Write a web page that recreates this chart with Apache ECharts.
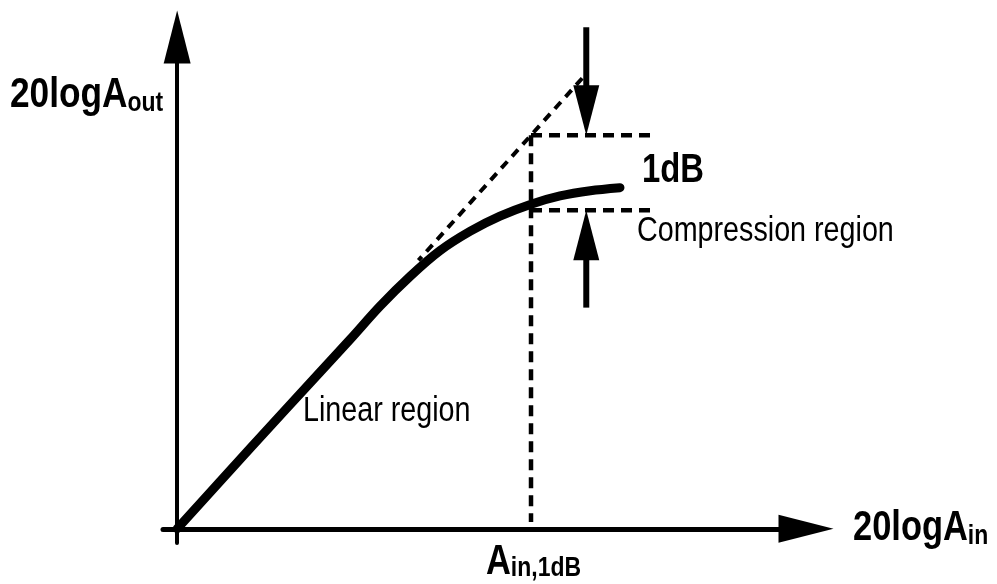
<!DOCTYPE html>
<html>
<head>
<meta charset="utf-8">
<title>1 dB compression point</title>
<script src="https://cdn.jsdelivr.net/npm/echarts@6/dist/echarts.min.js"></script>
<style>
  html, body { margin: 0; padding: 0; background: #fff; }
  #chart { width: 997px; height: 584px; }
</style>
</head>
<body>
<div id="chart"></div>
<script>
// Amplifier transfer characteristic, both axes in dB (20·log of amplitude).
// Output follows input one-to-one in the linear region, then saturates.
const inputLevel  = [0, 1.08, 2.12, 2.57, 3.01, 3.46, 3.90, 4.35, 4.79, 5.25, 5.68, 6.13, 6.57];
const outputLevel = [0, 1.07, 2.09, 2.53, 2.97, 3.37, 3.71, 3.97, 4.17, 4.33, 4.44, 4.51, 4.55];

// Extrapolated linear response (gain line, slope 1 dB/dB)
const linearStart = 3.58;
const linearEnd = 6.01;

// 1 dB compression point
const p1dbInput = 5.25;          // A_in,1dB
const compressionDb = 1;         // gap between ideal and actual output
const markerEnd = 7.09;          // right end of the horizontal markers
const arrowX = 6.07;             // where the 1 dB arrows sit
const arrowTails = [6.69, 2.95]; // tail levels of the down / up arrows

const idealAtP1 = p1dbInput;
const actualAtP1 = p1dbInput - compressionDb;

// ---- text helpers -------------------------------------------------------
const measureCtx = document.createElement('canvas').getContext('2d');
function hasFamily(family) {
  measureCtx.font = '40px monospace';
  const ref = measureCtx.measureText('20logA region').width;
  measureCtx.font = '40px "' + family + '", monospace';
  return measureCtx.measureText('20logA region').width !== ref;
}
const NARROW = hasFamily('Liberation Sans Narrow');
const FAMILY = NARROW
  ? '"Liberation Sans Narrow", "Liberation Sans", sans-serif'
  : '"Liberation Sans", Arial, sans-serif';
const SQUEEZE = NARROW ? 1 : 0.82;

function fontOf(size, bold) { return (bold ? 'bold ' : '') + size + 'px ' + FAMILY; }
function widthOf(text, size, bold) {
  measureCtx.font = fontOf(size, bold);
  return measureCtx.measureText(text).width * SQUEEZE;
}
function label(text, x, baseline, size, bold) {
  return {
    type: 'text',
    x: x,
    y: baseline - 0.3465 * size,
    scaleX: SQUEEZE,
    silent: true,
    z: 100,
    style: {
      text: text,
      font: fontOf(size, bold),
      fill: '#000',
      textAlign: 'left', align: 'left',
      textVerticalAlign: 'middle', verticalAlign: 'middle'
    }
  };
}
function withSub(main, sub, x, baseline, size, subSize, subDrop) {
  const w = widthOf(main, size, true);
  return [
    label(main, x, baseline, size, true),
    label(sub, x + w, baseline + subDrop, subSize, true)
  ];
}

// ---- chart ---------------------------------------------------------------
const chart = echarts.init(document.getElementById('chart'), null, { renderer: 'canvas' });

const dash = (pattern, width) => ({ color: '#000', width: width, type: pattern, cap: 'butt' });

const option = {
  animation: false,
  backgroundColor: '#fff',
  grid: { left: 163, right: 191, top: 37, bottom: 41, containLabel: false },
  xAxis: {
    type: 'value', min: -0.21, max: 9.33,
    axisLine: {
      onZero: true,
      symbol: ['none', 'triangle'], symbolSize: [28, 55],
      lineStyle: { color: '#000', width: 5 }
    },
    axisTick: { show: false }, axisLabel: { show: false }, splitLine: { show: false }
  },
  yAxis: {
    type: 'value', min: -0.19, max: 6.56,
    axisLine: {
      onZero: true,
      symbol: ['none', 'triangle'], symbolSize: [27, 53],
      lineStyle: { color: '#000', width: 4 }
    },
    axisTick: { show: false }, axisLabel: { show: false }, splitLine: { show: false }
  },
  series: [
    {
      name: 'extrapolated',
      type: 'line', showSymbol: false, silent: true, clip: false,
      data: [[linearEnd, linearEnd], [linearStart, linearStart]],
      lineStyle: dash([9, 7], 4), z: 2
    },
    {
      name: 'ideal output at P1dB',
      type: 'line', showSymbol: false, silent: true, clip: false,
      data: [[p1dbInput, idealAtP1], [markerEnd, idealAtP1]],
      lineStyle: dash([11, 7], 4.5), z: 2
    },
    {
      name: 'actual output at P1dB',
      type: 'line', showSymbol: false, silent: true, clip: false,
      data: [[p1dbInput, actualAtP1], [markerEnd, actualAtP1]],
      lineStyle: dash([11, 7], 4.5), z: 2
    },
    {
      name: 'A_in,1dB',
      type: 'line', showSymbol: false, silent: true, clip: false,
      data: [[p1dbInput, idealAtP1], [p1dbInput, 0.09]],
      lineStyle: dash([11, 7], 4.5), z: 2
    },
    {
      name: 'output',
      type: 'line', showSymbol: false, silent: true, clip: false,
      smooth: 0.3,
      data: inputLevel.map((v, i) => [v, outputLevel[i]]),
      lineStyle: { color: '#000', width: 9, cap: 'round', join: 'round' }, z: 3
    },
    {
      name: '1 dB arrows',
      type: 'custom', silent: true, clip: false,
      data: [[arrowX, arrowTails[0], idealAtP1], [arrowX, arrowTails[1], actualAtP1]],
      encode: { x: 0, y: [1, 2] },
      renderItem: function (params, api) {
        const a = api.coord([api.value(0), api.value(1)]);
        const b = api.coord([api.value(0), api.value(2)]);
        const dx = b[0] - a[0], dy = b[1] - a[1];
        const len = Math.hypot(dx, dy);
        const ux = dx / len, uy = dy / len;
        const headLen = 50, headHalf = 13;
        const base = [b[0] - ux * headLen, b[1] - uy * headLen];
        return {
          type: 'group',
          children: [
            { type: 'line', shape: { x1: a[0], y1: a[1], x2: base[0] + ux * 2, y2: base[1] + uy * 2 },
              style: { stroke: '#000', lineWidth: 6 } },
            { type: 'polygon',
              shape: { points: [b, [base[0] - uy * headHalf, base[1] + ux * headHalf], [base[0] + uy * headHalf, base[1] - ux * headHalf]] },
              style: { fill: '#000' } }
          ]
        };
      },
      z: 4
    }
  ],
  graphic: [
    ...withSub('20logA', 'out', 10, 110, 43, 28, 3),
    ...withSub('20logA', 'in', 853, 543, 42, 28, 3),
    ...withSub('A', 'in,1dB', 486, 577, 42, 28, 1),
    label('1dB', 642, 185, 40, true),
    label('Compression region', 637, 243, 35, false),
    label('Linear region', 303, 423, 35, false)
  ]
};

chart.setOption(option);
</script>
</body>
</html>
